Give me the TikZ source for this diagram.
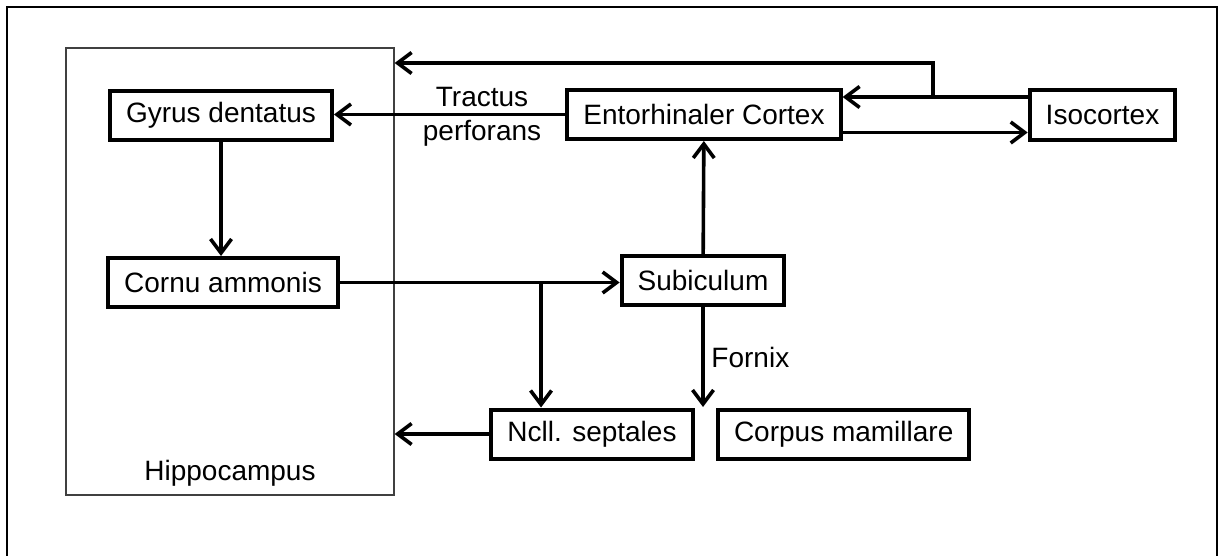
\documentclass[tikz,border=0pt]{standalone}
\usepackage{fontspec}
\setmainfont{Liberation Sans}
\usetikzlibrary{arrows.meta, positioning, calc}

\begin{document}
\begin{tikzpicture}[
    x=0.5pt, y=-0.5pt,
    font=\fontsize{14}{16.8}\selectfont,
    box/.style={draw, line width=2pt, inner xsep=8pt, minimum height=24.5pt},
    arr/.style={-{Straight Barb[length=7pt, width=10.5pt]}, line width=1.8pt},
    region/.style={draw=black!75, line width=0.6pt, inner sep=0pt, minimum width=164pt, minimum height=223.5pt},
]

\useasboundingbox (0,0) rectangle (1219,556);
\draw[line width=1.2pt] (7,556) -- (7,7) -- (1217,7) -- (1217,556);

\node[region] (hippo) at (230,271.5) {};
\node (hippolabel) at (230,473) {Hippocampus};

\node[box] (gyrus) at (221,115.5) {Gyrus dentatus};
\node[box] (cornu) at (223,282.5) {Cornu ammonis};
\node[box] (ec) at (704,114.5) {Entorhinaler Cortex};
\node[box] (iso) at (1102.5,115) {Isocortex};
\node[box] (sub) at (703,280.5) {Subiculum};
\node[box] (ncll) at (592,434) {Ncll. septales};
\node[box, anchor=west] (corpus) at (716,434) {Corpus mamillare};

\coordinate (branch) at (933,97);
\coordinate (corner) at (933,63);
\coordinate (split) at (541,282.5);
\coordinate (fornixend) at (703,407);

\draw[arr] (gyrus.south) -- (gyrus.south |- cornu.north);
\draw[arr] (cornu.east) -- (cornu.east -| sub.west);
\draw[arr] (split) -- (split |- ncll.north);
\draw[arr] (sub) -- (ec);
\draw[arr] (sub) -- node[right] {Fornix} (fornixend);
\draw[arr] (ec.west) -- node[pos=0.36, align=center, yshift=-1pt] {Tractus\\perforans} (ec.west -| gyrus.east);
\draw[arr] ([yshift=-9pt]ec.east) -- ([yshift=-9pt]ec.east -| iso.west);
\draw[arr] ([yshift=9pt]iso.west) -- ([yshift=9pt]iso.west -| ec.east);
\draw[arr] (branch) -- (corner) -- (corner -| hippo.east);
\draw[arr] (ncll.west) -- (ncll.west -| hippo.east);

\end{tikzpicture}
\end{document}
